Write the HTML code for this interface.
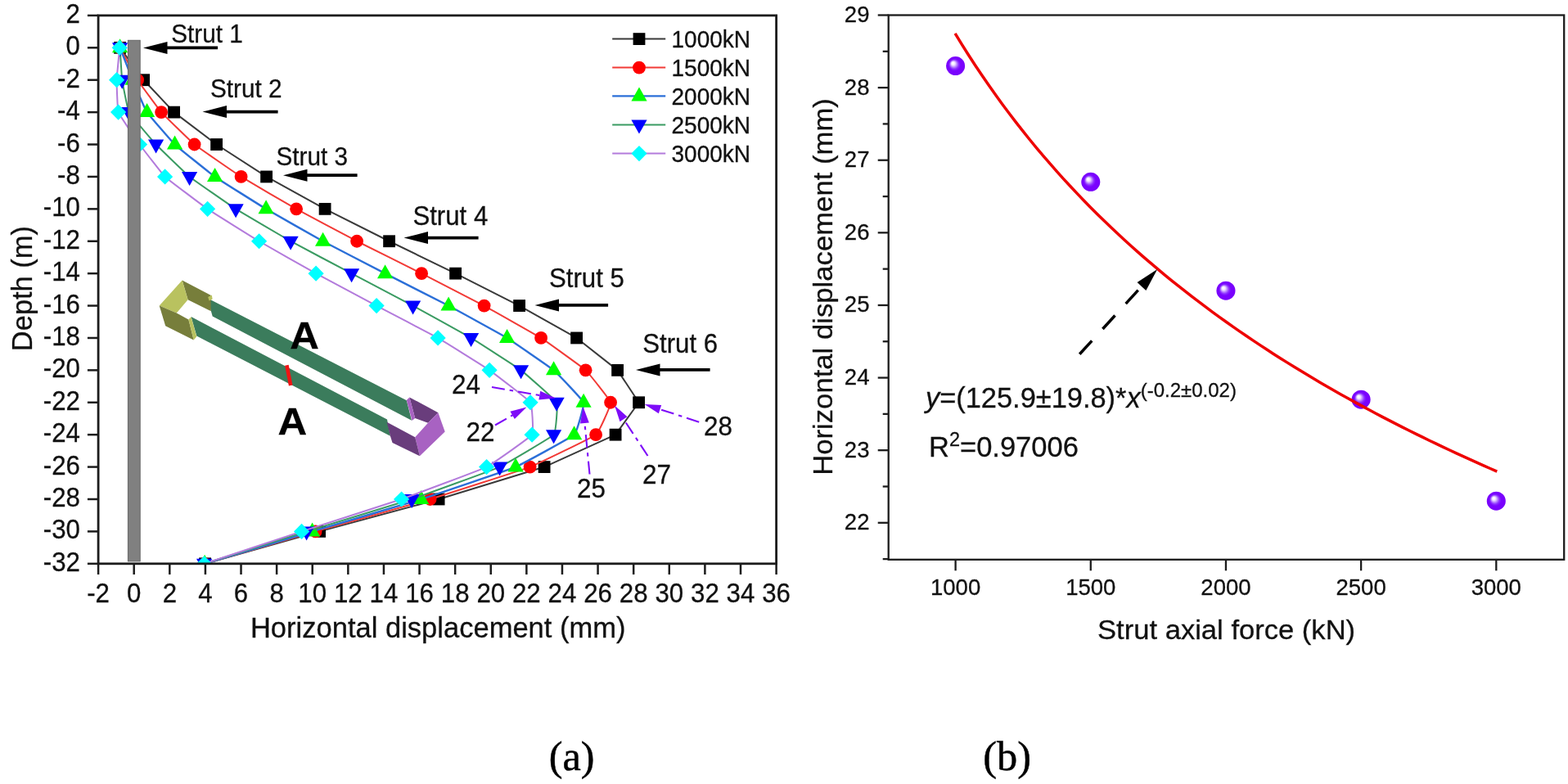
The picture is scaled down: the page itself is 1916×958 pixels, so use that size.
<!DOCTYPE html>
<html lang="en">
<head>
<meta charset="utf-8">
<title>Strut axial force and wall displacement</title>
<style>html,body{margin:0;padding:0;background:#fff}body{width:1916px;height:958px;overflow:hidden}svg{display:block;filter:blur(0.45px)}</style>
</head>
<body>
<svg width="1916" height="958" viewBox="0 0 1916 958">
<defs>
<clipPath id="clipL"><rect x="120.1" y="18.9" width="828.5" height="669.9"/></clipPath>
<radialGradient id="ball" cx="0.5" cy="0.5" r="0.5" fx="0.35" fy="0.34"><stop offset="0" stop-color="#ffffff"/><stop offset="0.12" stop-color="#fbf7ff"/><stop offset="0.22" stop-color="#e6d2ff"/><stop offset="0.36" stop-color="#b47cff"/><stop offset="0.5" stop-color="#8a2cff"/><stop offset="0.64" stop-color="#7a04ff"/><stop offset="1" stop-color="#7800fa"/></radialGradient>
<filter id="soft" x="-5%" y="-5%" width="110%" height="110%"><feGaussianBlur stdDeviation="0.6"/></filter>
</defs>
<rect width="1916" height="958" fill="#ffffff"/>
<g id="chart-a">
<g clip-path="url(#clipL)">
<path d="M146.6,58.31 C146.6,58.31 175.6,97.71 175.6,97.71 C175.6,97.71 212.6,137.12 212.6,137.12 C212.6,137.12 264.6,176.52 264.6,176.52 C264.6,176.52 325.6,215.93 325.6,215.93 C325.6,215.93 397.1,255.34 397.1,255.34 C397.1,255.34 475.6,294.74 475.6,294.74 C475.6,294.74 556.6,334.15 556.6,334.15 C556.6,334.15 634.6,373.55 634.6,373.55 C634.6,373.55 704.6,412.96 704.6,412.96 C704.6,412.96 754.6,452.36 754.6,452.36 C754.6,452.36 780.6,491.77 780.6,491.77 C780.6,491.77 752.1,531.18 752.1,531.18 C752.1,531.18 665.1,570.58 665.1,570.58 C665.1,570.58 536.1,609.99 536.1,609.99 C536.1,609.99 390.6,649.39 390.6,649.39 C390.6,649.39 250.6,688.8 250.6,688.8" fill="none" stroke="#3a3a3a" stroke-width="2" stroke-linejoin="round"/>
<rect x="139.2" y="50.91" width="14.8" height="14.8" fill="#000000"/>
<rect x="168.2" y="90.31" width="14.8" height="14.8" fill="#000000"/>
<rect x="205.2" y="129.72" width="14.8" height="14.8" fill="#000000"/>
<rect x="257.2" y="169.12" width="14.8" height="14.8" fill="#000000"/>
<rect x="318.2" y="208.53" width="14.8" height="14.8" fill="#000000"/>
<rect x="389.7" y="247.94" width="14.8" height="14.8" fill="#000000"/>
<rect x="468.2" y="287.34" width="14.8" height="14.8" fill="#000000"/>
<rect x="549.2" y="326.75" width="14.8" height="14.8" fill="#000000"/>
<rect x="627.2" y="366.15" width="14.8" height="14.8" fill="#000000"/>
<rect x="697.2" y="405.56" width="14.8" height="14.8" fill="#000000"/>
<rect x="747.2" y="444.96" width="14.8" height="14.8" fill="#000000"/>
<rect x="773.2" y="484.37" width="14.8" height="14.8" fill="#000000"/>
<rect x="744.7" y="523.78" width="14.8" height="14.8" fill="#000000"/>
<rect x="657.7" y="563.18" width="14.8" height="14.8" fill="#000000"/>
<rect x="528.7" y="602.59" width="14.8" height="14.8" fill="#000000"/>
<rect x="383.2" y="641.99" width="14.8" height="14.8" fill="#000000"/>
<rect x="243.2" y="681.4" width="14.8" height="14.8" fill="#000000"/>
<path d="M146.6,58.31 C147.46,59.88 166.08,94.56 168.1,97.71 C170.12,100.86 194.32,133.97 197.1,137.12 C199.88,140.27 233.7,173.37 237.6,176.52 C241.5,179.68 289.62,212.78 294.6,215.93 C299.58,219.08 356.44,252.18 362.1,255.34 C367.76,258.49 429.98,291.59 436.1,294.74 C442.22,297.89 508.88,330.99 515.1,334.15 C521.32,337.3 585.76,370.4 591.6,373.55 C597.44,376.71 656.14,409.81 661.1,412.96 C666.06,416.11 712.2,449.21 715.6,452.36 C719,455.52 745.6,488.62 746.1,491.77 C746.6,494.92 732.04,528.02 728.1,531.18 C724.16,534.33 655.7,567.43 647.6,570.58 C639.5,573.73 536.08,606.84 525.6,609.99 C515.12,613.14 396.62,646.24 385.6,649.39 C374.58,652.55 255.52,687.22 250.1,688.8" fill="none" stroke="#f23a36" stroke-width="2" stroke-linejoin="round"/>
<circle cx="146.6" cy="58.31" r="7.9" fill="#ff0000"/>
<circle cx="168.1" cy="97.71" r="7.9" fill="#ff0000"/>
<circle cx="197.1" cy="137.12" r="7.9" fill="#ff0000"/>
<circle cx="237.6" cy="176.52" r="7.9" fill="#ff0000"/>
<circle cx="294.6" cy="215.93" r="7.9" fill="#ff0000"/>
<circle cx="362.1" cy="255.34" r="7.9" fill="#ff0000"/>
<circle cx="436.1" cy="294.74" r="7.9" fill="#ff0000"/>
<circle cx="515.1" cy="334.15" r="7.9" fill="#ff0000"/>
<circle cx="591.6" cy="373.55" r="7.9" fill="#ff0000"/>
<circle cx="661.1" cy="412.96" r="7.9" fill="#ff0000"/>
<circle cx="715.6" cy="452.36" r="7.9" fill="#ff0000"/>
<circle cx="746.1" cy="491.77" r="7.9" fill="#ff0000"/>
<circle cx="728.1" cy="531.18" r="7.9" fill="#ff0000"/>
<circle cx="647.6" cy="570.58" r="7.9" fill="#ff0000"/>
<circle cx="525.6" cy="609.99" r="7.9" fill="#ff0000"/>
<circle cx="385.6" cy="649.39" r="7.9" fill="#ff0000"/>
<circle cx="250.1" cy="688.8" r="7.9" fill="#ff0000"/>
<path d="M146.6,58.31 C147.22,59.88 160.78,94.56 162.1,97.71 C163.42,100.86 177.54,133.97 179.6,137.12 C181.66,140.27 210.28,173.37 213.6,176.52 C216.92,179.68 258.14,212.78 262.6,215.93 C267.06,219.08 319.82,252.18 325.1,255.34 C330.38,258.49 388.78,291.59 394.6,294.74 C400.42,297.89 464.46,330.99 470.6,334.15 C476.74,337.3 542.14,370.4 548.1,373.55 C554.06,376.71 614.46,409.81 619.6,412.96 C624.74,416.11 672.86,449.21 676.6,452.36 C680.34,455.52 712.1,488.62 713.1,491.77 C714.1,494.92 704.92,528.02 701.6,531.18 C698.28,534.33 637.58,567.43 630.1,570.58 C622.62,573.73 524.54,606.84 514.6,609.99 C504.66,613.14 392.18,646.24 381.6,649.39 C371.02,652.55 255.36,687.22 250.1,688.8" fill="none" stroke="#2b6fd8" stroke-width="2.4" stroke-linejoin="round"/>
<polygon points="146.6,47.31 156.2,64.31 137,64.31" fill="#00ff00"/>
<polygon points="162.1,86.71 171.7,103.71 152.5,103.71" fill="#00ff00"/>
<polygon points="179.6,126.12 189.2,143.12 170,143.12" fill="#00ff00"/>
<polygon points="213.6,165.52 223.2,182.52 204,182.52" fill="#00ff00"/>
<polygon points="262.6,204.93 272.2,221.93 253,221.93" fill="#00ff00"/>
<polygon points="325.1,244.34 334.7,261.34 315.5,261.34" fill="#00ff00"/>
<polygon points="394.6,283.74 404.2,300.74 385,300.74" fill="#00ff00"/>
<polygon points="470.6,323.15 480.2,340.15 461,340.15" fill="#00ff00"/>
<polygon points="548.1,362.55 557.7,379.55 538.5,379.55" fill="#00ff00"/>
<polygon points="619.6,401.96 629.2,418.96 610,418.96" fill="#00ff00"/>
<polygon points="676.6,441.36 686.2,458.36 667,458.36" fill="#00ff00"/>
<polygon points="713.1,480.77 722.7,497.77 703.5,497.77" fill="#00ff00"/>
<polygon points="701.6,520.18 711.2,537.18 692,537.18" fill="#00ff00"/>
<polygon points="630.1,559.58 639.7,576.58 620.5,576.58" fill="#00ff00"/>
<polygon points="514.6,598.99 524.2,615.99 505,615.99" fill="#00ff00"/>
<polygon points="381.6,638.39 391.2,655.39 372,655.39" fill="#00ff00"/>
<polygon points="250.1,677.8 259.7,694.8 240.5,694.8" fill="#00ff00"/>
<path d="M146.6,58.31 C146.7,59.88 148.76,94.56 149.2,97.71 C149.64,100.86 155.94,133.97 157.6,137.12 C159.26,140.27 187.64,173.37 190.6,176.52 C193.56,179.68 227.7,212.78 231.6,215.93 C235.5,219.08 283.16,252.18 288.1,255.34 C293.04,258.49 349.44,291.59 355.1,294.74 C360.76,297.89 423.62,330.99 429.6,334.15 C435.58,337.3 498.76,370.4 504.6,373.55 C510.44,376.71 570.32,409.81 575.6,412.96 C580.88,416.11 632.42,449.21 636.6,452.36 C640.78,455.52 678.5,488.62 680.1,491.77 C681.7,494.92 679.38,528.02 676.6,531.18 C673.82,534.33 617.54,567.43 610.6,570.58 C603.66,573.73 512.54,606.84 503.1,609.99 C493.66,613.14 384.74,646.24 374.6,649.39 C364.46,652.55 254.6,687.22 249.6,688.8" fill="none" stroke="#3a9b62" stroke-width="2" stroke-linejoin="round"/>
<polygon points="137,52.31 156.2,52.31 146.6,69.31" fill="#0000ff"/>
<polygon points="139.6,91.71 158.8,91.71 149.2,108.71" fill="#0000ff"/>
<polygon points="148,131.12 167.2,131.12 157.6,148.12" fill="#0000ff"/>
<polygon points="181,170.52 200.2,170.52 190.6,187.52" fill="#0000ff"/>
<polygon points="222,209.93 241.2,209.93 231.6,226.93" fill="#0000ff"/>
<polygon points="278.5,249.34 297.7,249.34 288.1,266.34" fill="#0000ff"/>
<polygon points="345.5,288.74 364.7,288.74 355.1,305.74" fill="#0000ff"/>
<polygon points="420,328.15 439.2,328.15 429.6,345.15" fill="#0000ff"/>
<polygon points="495,367.55 514.2,367.55 504.6,384.55" fill="#0000ff"/>
<polygon points="566,406.96 585.2,406.96 575.6,423.96" fill="#0000ff"/>
<polygon points="627,446.36 646.2,446.36 636.6,463.36" fill="#0000ff"/>
<polygon points="670.5,485.77 689.7,485.77 680.1,502.77" fill="#0000ff"/>
<polygon points="667,525.18 686.2,525.18 676.6,542.18" fill="#0000ff"/>
<polygon points="601,564.58 620.2,564.58 610.6,581.58" fill="#0000ff"/>
<polygon points="493.5,603.99 512.7,603.99 503.1,620.99" fill="#0000ff"/>
<polygon points="365,643.39 384.2,643.39 374.6,660.39" fill="#0000ff"/>
<polygon points="240,682.8 259.2,682.8 249.6,699.8" fill="#0000ff"/>
<path d="M146.2,58.31 C146.06,59.88 142.66,94.56 142.6,97.71 C142.54,100.86 143.48,133.97 144.6,137.12 C145.72,140.27 168.32,173.37 170.6,176.52 C172.88,179.68 198.28,212.78 201.6,215.93 C204.92,219.08 249,252.18 253.6,255.34 C258.2,258.49 311.3,291.59 316.6,294.74 C321.9,297.89 380.36,330.99 386.1,334.15 C391.84,337.3 454.14,370.4 460.1,373.55 C466.06,376.71 529.58,409.81 535.1,412.96 C540.62,416.11 593.58,449.21 598.1,452.36 C602.62,455.52 646.02,488.62 648.1,491.77 C650.18,494.92 652.24,528.02 650.1,531.18 C647.96,534.33 600.98,567.43 594.6,570.58 C588.22,573.73 499.64,606.84 490.6,609.99 C481.56,613.14 378.24,646.24 368.6,649.39 C358.96,652.55 254.36,687.22 249.6,688.8" fill="none" stroke="#b37bdc" stroke-width="2" stroke-linejoin="round"/>
<polygon points="146.2,48.71 155.8,58.31 146.2,67.91 136.6,58.31" fill="#00ffff"/>
<polygon points="142.6,88.11 152.2,97.71 142.6,107.31 133,97.71" fill="#00ffff"/>
<polygon points="144.6,127.52 154.2,137.12 144.6,146.72 135,137.12" fill="#00ffff"/>
<polygon points="170.6,166.92 180.2,176.52 170.6,186.12 161,176.52" fill="#00ffff"/>
<polygon points="201.6,206.33 211.2,215.93 201.6,225.53 192,215.93" fill="#00ffff"/>
<polygon points="253.6,245.74 263.2,255.34 253.6,264.94 244,255.34" fill="#00ffff"/>
<polygon points="316.6,285.14 326.2,294.74 316.6,304.34 307,294.74" fill="#00ffff"/>
<polygon points="386.1,324.55 395.7,334.15 386.1,343.75 376.5,334.15" fill="#00ffff"/>
<polygon points="460.1,363.95 469.7,373.55 460.1,383.15 450.5,373.55" fill="#00ffff"/>
<polygon points="535.1,403.36 544.7,412.96 535.1,422.56 525.5,412.96" fill="#00ffff"/>
<polygon points="598.1,442.76 607.7,452.36 598.1,461.96 588.5,452.36" fill="#00ffff"/>
<polygon points="648.1,482.17 657.7,491.77 648.1,501.37 638.5,491.77" fill="#00ffff"/>
<polygon points="650.1,521.58 659.7,531.18 650.1,540.78 640.5,531.18" fill="#00ffff"/>
<polygon points="594.6,560.98 604.2,570.58 594.6,580.18 585,570.58" fill="#00ffff"/>
<polygon points="490.6,600.39 500.2,609.99 490.6,619.59 481,609.99" fill="#00ffff"/>
<polygon points="368.6,639.79 378.2,649.39 368.6,658.99 359,649.39" fill="#00ffff"/>
<polygon points="249.6,679.2 259.2,688.8 249.6,698.4 240,688.8" fill="#00ffff"/>
</g>
<g filter="url(#soft)">
<polygon points="253.4,364.2 496.8,489.3 503,513.7 259.7,386.6" fill="#3b7b5b"/>
<polygon points="233.5,387 473,512.6 476.9,532.7 240.3,410.6" fill="#3b7b5b"/>
<polygon points="222.6,342.6 257.5,360.8 257.8,380.2 229.6,366.3" fill="#777e3b"/>
<polygon points="222.6,342.6 229.6,366.3 215.8,382.6 194.7,373.6" fill="#b9c25f"/>
<polygon points="194.7,373.6 215.8,382.6 230.4,390.4 236.7,415.4 202.2,398.2" fill="#777e3b"/>
<polygon points="230.4,390.4 233.5,387.2 240.3,411.2 236.7,415.4" fill="#b9c25f"/>
<polygon points="254.2,363 258.8,360.6 259.6,365.6 255.6,367.6" fill="#b9c25f"/>
<polygon points="500.4,485.4 535.4,504.2 523,516.8 507.2,511" fill="#693c7c"/>
<polygon points="496.8,489.1 500.4,485.4 507.2,511 503.5,513.9" fill="#a862c2"/>
<polygon points="535.4,504.2 543.7,527.5 512.9,557.3 507.2,534.3 523,516.8" fill="#a862c2"/>
<polygon points="472.7,515.7 507.2,534.3 512.9,557.3 479.5,541.1 476.9,532.7" fill="#693c7c"/>
</g>
<line x1="350.4" y1="446.2" x2="355.2" y2="471" stroke="#f01414" stroke-width="4.6"/>
<text transform="translate(372.1,426.2) scale(1.05,1)" font-family='"Liberation Sans", Arial, sans-serif' font-size="47" text-anchor="middle" fill="#000" font-weight="bold" stroke="#000" stroke-width="0.3">A</text>
<text transform="translate(357.3,530.6) scale(1.05,1)" font-family='"Liberation Sans", Arial, sans-serif' font-size="47" text-anchor="middle" fill="#000" font-weight="bold" stroke="#000" stroke-width="0.3">A</text>
<rect x="156.4" y="49.3" width="14.8" height="636.6" fill="#808080" stroke="#646464" stroke-width="1"/>
<rect x="120.1" y="18.9" width="828.5" height="669.9" fill="none" stroke="#1c1c1c" stroke-width="2.8"/>
<line x1="106.9" y1="18.9" x2="120.1" y2="18.9" stroke="#1c1c1c" stroke-width="2.5"/>
<text transform="translate(97.9,27.9) scale(0.93,1)" font-family='"Liberation Sans", Arial, sans-serif' font-size="33.6" text-anchor="end" fill="#111" stroke="#111" stroke-width="0.3">2</text>
<line x1="106.9" y1="58.31" x2="120.1" y2="58.31" stroke="#1c1c1c" stroke-width="2.5"/>
<text transform="translate(97.9,67.31) scale(0.93,1)" font-family='"Liberation Sans", Arial, sans-serif' font-size="33.6" text-anchor="end" fill="#111" stroke="#111" stroke-width="0.3">0</text>
<line x1="106.9" y1="97.71" x2="120.1" y2="97.71" stroke="#1c1c1c" stroke-width="2.5"/>
<text transform="translate(97.9,106.71) scale(0.93,1)" font-family='"Liberation Sans", Arial, sans-serif' font-size="33.6" text-anchor="end" fill="#111" stroke="#111" stroke-width="0.3">-2</text>
<line x1="106.9" y1="137.12" x2="120.1" y2="137.12" stroke="#1c1c1c" stroke-width="2.5"/>
<text transform="translate(97.9,146.12) scale(0.93,1)" font-family='"Liberation Sans", Arial, sans-serif' font-size="33.6" text-anchor="end" fill="#111" stroke="#111" stroke-width="0.3">-4</text>
<line x1="106.9" y1="176.52" x2="120.1" y2="176.52" stroke="#1c1c1c" stroke-width="2.5"/>
<text transform="translate(97.9,185.52) scale(0.93,1)" font-family='"Liberation Sans", Arial, sans-serif' font-size="33.6" text-anchor="end" fill="#111" stroke="#111" stroke-width="0.3">-6</text>
<line x1="106.9" y1="215.93" x2="120.1" y2="215.93" stroke="#1c1c1c" stroke-width="2.5"/>
<text transform="translate(97.9,224.93) scale(0.93,1)" font-family='"Liberation Sans", Arial, sans-serif' font-size="33.6" text-anchor="end" fill="#111" stroke="#111" stroke-width="0.3">-8</text>
<line x1="106.9" y1="255.34" x2="120.1" y2="255.34" stroke="#1c1c1c" stroke-width="2.5"/>
<text transform="translate(97.9,264.34) scale(0.93,1)" font-family='"Liberation Sans", Arial, sans-serif' font-size="33.6" text-anchor="end" fill="#111" stroke="#111" stroke-width="0.3">-10</text>
<line x1="106.9" y1="294.74" x2="120.1" y2="294.74" stroke="#1c1c1c" stroke-width="2.5"/>
<text transform="translate(97.9,303.74) scale(0.93,1)" font-family='"Liberation Sans", Arial, sans-serif' font-size="33.6" text-anchor="end" fill="#111" stroke="#111" stroke-width="0.3">-12</text>
<line x1="106.9" y1="334.15" x2="120.1" y2="334.15" stroke="#1c1c1c" stroke-width="2.5"/>
<text transform="translate(97.9,343.15) scale(0.93,1)" font-family='"Liberation Sans", Arial, sans-serif' font-size="33.6" text-anchor="end" fill="#111" stroke="#111" stroke-width="0.3">-14</text>
<line x1="106.9" y1="373.55" x2="120.1" y2="373.55" stroke="#1c1c1c" stroke-width="2.5"/>
<text transform="translate(97.9,382.55) scale(0.93,1)" font-family='"Liberation Sans", Arial, sans-serif' font-size="33.6" text-anchor="end" fill="#111" stroke="#111" stroke-width="0.3">-16</text>
<line x1="106.9" y1="412.96" x2="120.1" y2="412.96" stroke="#1c1c1c" stroke-width="2.5"/>
<text transform="translate(97.9,421.96) scale(0.93,1)" font-family='"Liberation Sans", Arial, sans-serif' font-size="33.6" text-anchor="end" fill="#111" stroke="#111" stroke-width="0.3">-18</text>
<line x1="106.9" y1="452.36" x2="120.1" y2="452.36" stroke="#1c1c1c" stroke-width="2.5"/>
<text transform="translate(97.9,461.36) scale(0.93,1)" font-family='"Liberation Sans", Arial, sans-serif' font-size="33.6" text-anchor="end" fill="#111" stroke="#111" stroke-width="0.3">-20</text>
<line x1="106.9" y1="491.77" x2="120.1" y2="491.77" stroke="#1c1c1c" stroke-width="2.5"/>
<text transform="translate(97.9,500.77) scale(0.93,1)" font-family='"Liberation Sans", Arial, sans-serif' font-size="33.6" text-anchor="end" fill="#111" stroke="#111" stroke-width="0.3">-22</text>
<line x1="106.9" y1="531.18" x2="120.1" y2="531.18" stroke="#1c1c1c" stroke-width="2.5"/>
<text transform="translate(97.9,540.18) scale(0.93,1)" font-family='"Liberation Sans", Arial, sans-serif' font-size="33.6" text-anchor="end" fill="#111" stroke="#111" stroke-width="0.3">-24</text>
<line x1="106.9" y1="570.58" x2="120.1" y2="570.58" stroke="#1c1c1c" stroke-width="2.5"/>
<text transform="translate(97.9,579.58) scale(0.93,1)" font-family='"Liberation Sans", Arial, sans-serif' font-size="33.6" text-anchor="end" fill="#111" stroke="#111" stroke-width="0.3">-26</text>
<line x1="106.9" y1="609.99" x2="120.1" y2="609.99" stroke="#1c1c1c" stroke-width="2.5"/>
<text transform="translate(97.9,618.99) scale(0.93,1)" font-family='"Liberation Sans", Arial, sans-serif' font-size="33.6" text-anchor="end" fill="#111" stroke="#111" stroke-width="0.3">-28</text>
<line x1="106.9" y1="649.39" x2="120.1" y2="649.39" stroke="#1c1c1c" stroke-width="2.5"/>
<text transform="translate(97.9,658.39) scale(0.93,1)" font-family='"Liberation Sans", Arial, sans-serif' font-size="33.6" text-anchor="end" fill="#111" stroke="#111" stroke-width="0.3">-30</text>
<line x1="106.9" y1="688.8" x2="120.1" y2="688.8" stroke="#1c1c1c" stroke-width="2.5"/>
<text transform="translate(97.9,697.8) scale(0.93,1)" font-family='"Liberation Sans", Arial, sans-serif' font-size="33.6" text-anchor="end" fill="#111" stroke="#111" stroke-width="0.3">-32</text>
<line x1="120.1" y1="688.8" x2="120.1" y2="702" stroke="#1c1c1c" stroke-width="2.5"/>
<text transform="translate(120.1,735.9) scale(0.93,1)" font-family='"Liberation Sans", Arial, sans-serif' font-size="33.6" text-anchor="middle" fill="#111" stroke="#111" stroke-width="0.3">-2</text>
<line x1="163.71" y1="688.8" x2="163.71" y2="702" stroke="#1c1c1c" stroke-width="2.5"/>
<text transform="translate(163.71,735.9) scale(0.93,1)" font-family='"Liberation Sans", Arial, sans-serif' font-size="33.6" text-anchor="middle" fill="#111" stroke="#111" stroke-width="0.3">0</text>
<line x1="207.31" y1="688.8" x2="207.31" y2="702" stroke="#1c1c1c" stroke-width="2.5"/>
<text transform="translate(207.31,735.9) scale(0.93,1)" font-family='"Liberation Sans", Arial, sans-serif' font-size="33.6" text-anchor="middle" fill="#111" stroke="#111" stroke-width="0.3">2</text>
<line x1="250.92" y1="688.8" x2="250.92" y2="702" stroke="#1c1c1c" stroke-width="2.5"/>
<text transform="translate(250.92,735.9) scale(0.93,1)" font-family='"Liberation Sans", Arial, sans-serif' font-size="33.6" text-anchor="middle" fill="#111" stroke="#111" stroke-width="0.3">4</text>
<line x1="294.52" y1="688.8" x2="294.52" y2="702" stroke="#1c1c1c" stroke-width="2.5"/>
<text transform="translate(294.52,735.9) scale(0.93,1)" font-family='"Liberation Sans", Arial, sans-serif' font-size="33.6" text-anchor="middle" fill="#111" stroke="#111" stroke-width="0.3">6</text>
<line x1="338.13" y1="688.8" x2="338.13" y2="702" stroke="#1c1c1c" stroke-width="2.5"/>
<text transform="translate(338.13,735.9) scale(0.93,1)" font-family='"Liberation Sans", Arial, sans-serif' font-size="33.6" text-anchor="middle" fill="#111" stroke="#111" stroke-width="0.3">8</text>
<line x1="381.73" y1="688.8" x2="381.73" y2="702" stroke="#1c1c1c" stroke-width="2.5"/>
<text transform="translate(381.73,735.9) scale(0.93,1)" font-family='"Liberation Sans", Arial, sans-serif' font-size="33.6" text-anchor="middle" fill="#111" stroke="#111" stroke-width="0.3">10</text>
<line x1="425.34" y1="688.8" x2="425.34" y2="702" stroke="#1c1c1c" stroke-width="2.5"/>
<text transform="translate(425.34,735.9) scale(0.93,1)" font-family='"Liberation Sans", Arial, sans-serif' font-size="33.6" text-anchor="middle" fill="#111" stroke="#111" stroke-width="0.3">12</text>
<line x1="468.94" y1="688.8" x2="468.94" y2="702" stroke="#1c1c1c" stroke-width="2.5"/>
<text transform="translate(468.94,735.9) scale(0.93,1)" font-family='"Liberation Sans", Arial, sans-serif' font-size="33.6" text-anchor="middle" fill="#111" stroke="#111" stroke-width="0.3">14</text>
<line x1="512.55" y1="688.8" x2="512.55" y2="702" stroke="#1c1c1c" stroke-width="2.5"/>
<text transform="translate(512.55,735.9) scale(0.93,1)" font-family='"Liberation Sans", Arial, sans-serif' font-size="33.6" text-anchor="middle" fill="#111" stroke="#111" stroke-width="0.3">16</text>
<line x1="556.15" y1="688.8" x2="556.15" y2="702" stroke="#1c1c1c" stroke-width="2.5"/>
<text transform="translate(556.15,735.9) scale(0.93,1)" font-family='"Liberation Sans", Arial, sans-serif' font-size="33.6" text-anchor="middle" fill="#111" stroke="#111" stroke-width="0.3">18</text>
<line x1="599.76" y1="688.8" x2="599.76" y2="702" stroke="#1c1c1c" stroke-width="2.5"/>
<text transform="translate(599.76,735.9) scale(0.93,1)" font-family='"Liberation Sans", Arial, sans-serif' font-size="33.6" text-anchor="middle" fill="#111" stroke="#111" stroke-width="0.3">20</text>
<line x1="643.36" y1="688.8" x2="643.36" y2="702" stroke="#1c1c1c" stroke-width="2.5"/>
<text transform="translate(643.36,735.9) scale(0.93,1)" font-family='"Liberation Sans", Arial, sans-serif' font-size="33.6" text-anchor="middle" fill="#111" stroke="#111" stroke-width="0.3">22</text>
<line x1="686.97" y1="688.8" x2="686.97" y2="702" stroke="#1c1c1c" stroke-width="2.5"/>
<text transform="translate(686.97,735.9) scale(0.93,1)" font-family='"Liberation Sans", Arial, sans-serif' font-size="33.6" text-anchor="middle" fill="#111" stroke="#111" stroke-width="0.3">24</text>
<line x1="730.57" y1="688.8" x2="730.57" y2="702" stroke="#1c1c1c" stroke-width="2.5"/>
<text transform="translate(730.57,735.9) scale(0.93,1)" font-family='"Liberation Sans", Arial, sans-serif' font-size="33.6" text-anchor="middle" fill="#111" stroke="#111" stroke-width="0.3">26</text>
<line x1="774.18" y1="688.8" x2="774.18" y2="702" stroke="#1c1c1c" stroke-width="2.5"/>
<text transform="translate(774.18,735.9) scale(0.93,1)" font-family='"Liberation Sans", Arial, sans-serif' font-size="33.6" text-anchor="middle" fill="#111" stroke="#111" stroke-width="0.3">28</text>
<line x1="817.78" y1="688.8" x2="817.78" y2="702" stroke="#1c1c1c" stroke-width="2.5"/>
<text transform="translate(817.78,735.9) scale(0.93,1)" font-family='"Liberation Sans", Arial, sans-serif' font-size="33.6" text-anchor="middle" fill="#111" stroke="#111" stroke-width="0.3">30</text>
<line x1="861.39" y1="688.8" x2="861.39" y2="702" stroke="#1c1c1c" stroke-width="2.5"/>
<text transform="translate(861.39,735.9) scale(0.93,1)" font-family='"Liberation Sans", Arial, sans-serif' font-size="33.6" text-anchor="middle" fill="#111" stroke="#111" stroke-width="0.3">32</text>
<line x1="904.99" y1="688.8" x2="904.99" y2="702" stroke="#1c1c1c" stroke-width="2.5"/>
<text transform="translate(904.99,735.9) scale(0.93,1)" font-family='"Liberation Sans", Arial, sans-serif' font-size="33.6" text-anchor="middle" fill="#111" stroke="#111" stroke-width="0.3">34</text>
<line x1="948.6" y1="688.8" x2="948.6" y2="702" stroke="#1c1c1c" stroke-width="2.5"/>
<text transform="translate(948.6,735.9) scale(0.93,1)" font-family='"Liberation Sans", Arial, sans-serif' font-size="33.6" text-anchor="middle" fill="#111" stroke="#111" stroke-width="0.3">36</text>
<text transform="translate(535.2,778.5) scale(1.01,1)" font-family='"Liberation Sans", Arial, sans-serif' font-size="34.2" text-anchor="middle" fill="#111" stroke="#111" stroke-width="0.3">Horizontal displacement (mm)</text>
<text transform="translate(38.7,352.6) rotate(-90) scale(0.99,1)" font-family='"Liberation Sans", Arial, sans-serif' font-size="34.8" text-anchor="middle" fill="#111" stroke="#111" stroke-width="0.3">Depth (m)</text>
<line x1="748.2" y1="47.6" x2="813.2" y2="47.6" stroke="#3a3a3a" stroke-width="2"/>
<rect x="773.6" y="40.2" width="14.8" height="14.8" fill="#000000"/>
<text transform="translate(820.5,57.8) scale(0.95,1)" font-family='"Liberation Sans", Arial, sans-serif' font-size="29.5" text-anchor="start" fill="#111" stroke="#111" stroke-width="0.3">1000kN</text>
<line x1="748.2" y1="82.6" x2="813.2" y2="82.6" stroke="#f23a36" stroke-width="2"/>
<circle cx="781" cy="82.6" r="7.9" fill="#ff0000"/>
<text transform="translate(820.5,92.8) scale(0.95,1)" font-family='"Liberation Sans", Arial, sans-serif' font-size="29.5" text-anchor="start" fill="#111" stroke="#111" stroke-width="0.3">1500kN</text>
<line x1="748.2" y1="117.4" x2="813.2" y2="117.4" stroke="#2b6fd8" stroke-width="2.4"/>
<polygon points="781,106.4 790.6,123.4 771.4,123.4" fill="#00ff00"/>
<text transform="translate(820.5,127.6) scale(0.95,1)" font-family='"Liberation Sans", Arial, sans-serif' font-size="29.5" text-anchor="start" fill="#111" stroke="#111" stroke-width="0.3">2000kN</text>
<line x1="748.2" y1="152.4" x2="813.2" y2="152.4" stroke="#3a9b62" stroke-width="2"/>
<polygon points="771.4,146.4 790.6,146.4 781,163.4" fill="#0000ff"/>
<text transform="translate(820.5,162.6) scale(0.95,1)" font-family='"Liberation Sans", Arial, sans-serif' font-size="29.5" text-anchor="start" fill="#111" stroke="#111" stroke-width="0.3">2500kN</text>
<line x1="748.2" y1="187.6" x2="813.2" y2="187.6" stroke="#b37bdc" stroke-width="2"/>
<polygon points="781,178 790.6,187.6 781,197.2 771.4,187.6" fill="#00ffff"/>
<text transform="translate(820.5,197.8) scale(0.95,1)" font-family='"Liberation Sans", Arial, sans-serif' font-size="29.5" text-anchor="start" fill="#111" stroke="#111" stroke-width="0.3">3000kN</text>
<text transform="translate(209.2,52) scale(0.96,1)" font-family='"Liberation Sans", Arial, sans-serif' font-size="31" text-anchor="start" fill="#111" stroke="#111" stroke-width="0.3">Strut 1</text>
<line x1="266.1" y1="58.4" x2="195" y2="58.4" stroke="#000" stroke-width="3.8"/>
<polygon points="175,58.4 204.5,50.9 204.5,65.9" fill="#000"/>
<text transform="translate(257,119.4) scale(0.96,1)" font-family='"Liberation Sans", Arial, sans-serif' font-size="31" text-anchor="start" fill="#111" stroke="#111" stroke-width="0.3">Strut 2</text>
<line x1="339.6" y1="136.6" x2="267.5" y2="136.6" stroke="#000" stroke-width="3.8"/>
<polygon points="247.5,136.6 277,129.1 277,144.1" fill="#000"/>
<text transform="translate(337.4,202) scale(0.96,1)" font-family='"Liberation Sans", Arial, sans-serif' font-size="31" text-anchor="start" fill="#111" stroke="#111" stroke-width="0.3">Strut 3</text>
<line x1="436.6" y1="214.2" x2="366" y2="214.2" stroke="#000" stroke-width="3.8"/>
<polygon points="346,214.2 375.5,206.7 375.5,221.7" fill="#000"/>
<text transform="translate(504.4,274.6) scale(0.96,1)" font-family='"Liberation Sans", Arial, sans-serif' font-size="32.5" text-anchor="start" fill="#111" stroke="#111" stroke-width="0.3">Strut 4</text>
<line x1="584.6" y1="290.6" x2="513.5" y2="290.6" stroke="#000" stroke-width="3.8"/>
<polygon points="493.5,290.6 523,283.1 523,298.1" fill="#000"/>
<text transform="translate(671,351) scale(0.96,1)" font-family='"Liberation Sans", Arial, sans-serif' font-size="32.5" text-anchor="start" fill="#111" stroke="#111" stroke-width="0.3">Strut 5</text>
<line x1="743.1" y1="372.9" x2="673.5" y2="372.9" stroke="#000" stroke-width="3.8"/>
<polygon points="653.5,372.9 683,365.4 683,380.4" fill="#000"/>
<text transform="translate(785.2,431.2) scale(0.96,1)" font-family='"Liberation Sans", Arial, sans-serif' font-size="32.5" text-anchor="start" fill="#111" stroke="#111" stroke-width="0.3">Strut 6</text>
<line x1="867.6" y1="451.9" x2="797" y2="451.9" stroke="#000" stroke-width="3.8"/>
<polygon points="777,451.9 806.5,444.4 806.5,459.4" fill="#000"/>
<line x1="601" y1="473" x2="661.26" y2="483.43" stroke="#7e0cf8" stroke-width="2.1" stroke-dasharray="16 6 4.5 6"/>
<polygon points="679,486.5 658.37,488.41 660.21,477.77" fill="#7e0cf8"/>
<text transform="translate(552,481.4) scale(0.94,1)" font-family='"Liberation Sans", Arial, sans-serif' font-size="33.4" text-anchor="start" fill="#111" stroke="#111" stroke-width="0.3">24</text>
<line x1="605" y1="519.5" x2="627.87" y2="506.43" stroke="#7e0cf8" stroke-width="2.1" stroke-dasharray="16 6 4.5 6"/>
<polygon points="643.5,497.5 628.81,512.11 623.46,502.73" fill="#7e0cf8"/>
<text transform="translate(569.5,538.7) scale(0.94,1)" font-family='"Liberation Sans", Arial, sans-serif' font-size="33.4" text-anchor="start" fill="#111" stroke="#111" stroke-width="0.3">22</text>
<line x1="720.5" y1="579.5" x2="714.24" y2="514.92" stroke="#7e0cf8" stroke-width="2.1" stroke-dasharray="16 6 4.5 6"/>
<polygon points="712.5,497 719.81,516.39 709.06,517.43" fill="#7e0cf8"/>
<text transform="translate(705,608.2) scale(0.94,1)" font-family='"Liberation Sans", Arial, sans-serif' font-size="33.4" text-anchor="start" fill="#111" stroke="#111" stroke-width="0.3">25</text>
<line x1="791.5" y1="557" x2="760.9" y2="510.53" stroke="#7e0cf8" stroke-width="2.1" stroke-dasharray="16 6 4.5 6"/>
<polygon points="751,495.5 766.51,509.23 757.49,515.17" fill="#7e0cf8"/>
<text transform="translate(785,591.4) scale(0.94,1)" font-family='"Liberation Sans", Arial, sans-serif' font-size="33.4" text-anchor="start" fill="#111" stroke="#111" stroke-width="0.3">27</text>
<line x1="854.2" y1="515.7" x2="804.61" y2="499.49" stroke="#7e0cf8" stroke-width="2.1" stroke-dasharray="16 6 4.5 6"/>
<polygon points="787.5,493.9 808.19,494.98 804.83,505.25" fill="#7e0cf8"/>
<text transform="translate(860,531.7) scale(0.94,1)" font-family='"Liberation Sans", Arial, sans-serif' font-size="33.4" text-anchor="start" fill="#111" stroke="#111" stroke-width="0.3">28</text>
</g>
<g id="chart-b">
<circle cx="1167.6" cy="80.53" r="11.5" fill="url(#ball)"/>
<circle cx="1332.77" cy="222.31" r="11.5" fill="url(#ball)"/>
<circle cx="1497.95" cy="355.23" r="11.5" fill="url(#ball)"/>
<circle cx="1663.12" cy="488.16" r="11.5" fill="url(#ball)"/>
<circle cx="1828.3" cy="612.22" r="11.5" fill="url(#ball)"/>
<path d="M1167.1,40.88 L1175.38,54.37 L1183.66,67.46 L1191.94,80.18 L1200.21,92.54 L1208.49,104.57 L1216.77,116.27 L1225.05,127.67 L1233.32,138.78 L1241.6,149.61 L1249.88,160.17 L1258.16,170.48 L1266.43,180.54 L1274.71,190.37 L1282.99,199.98 L1291.26,209.38 L1299.54,218.57 L1307.82,227.56 L1316.1,236.36 L1324.37,244.98 L1332.65,253.42 L1340.93,261.69 L1349.21,269.8 L1357.48,277.75 L1365.76,285.55 L1374.04,293.2 L1382.32,300.71 L1390.59,308.09 L1398.87,315.33 L1407.15,322.44 L1415.42,329.43 L1423.7,336.3 L1431.98,343.05 L1440.26,349.68 L1448.53,356.21 L1456.81,362.63 L1465.09,368.95 L1473.37,375.17 L1481.64,381.29 L1489.92,387.31 L1498.2,393.25 L1506.48,399.09 L1514.75,404.85 L1523.03,410.52 L1531.31,416.11 L1539.58,421.62 L1547.86,427.05 L1556.14,432.41 L1564.42,437.69 L1572.69,442.89 L1580.97,448.03 L1589.25,453.1 L1597.53,458.1 L1605.8,463.03 L1614.08,467.91 L1622.36,472.71 L1630.64,477.46 L1638.91,482.15 L1647.19,486.78 L1655.47,491.35 L1663.74,495.87 L1672.02,500.33 L1680.3,504.74 L1688.58,509.09 L1696.85,513.4 L1705.13,517.65 L1713.41,521.86 L1721.69,526.02 L1729.96,530.13 L1738.24,534.19 L1746.52,538.21 L1754.8,542.19 L1763.07,546.12 L1771.35,550.01 L1779.63,553.86 L1787.9,557.66 L1796.18,561.43 L1804.46,565.16 L1812.74,568.85 L1821.01,572.5 L1829.29,576.12" fill="none" stroke="#ee0202" stroke-width="3.5" stroke-linecap="butt"/>
<rect x="1085.7" y="18.5" width="825.5" height="665.3" fill="none" stroke="#1c1c1c" stroke-width="2.3"/>
<line x1="1072.7" y1="18.5" x2="1085.7" y2="18.5" stroke="#1c1c1c" stroke-width="2.3"/>
<text transform="translate(1062.5,26.9) scale(0.97,1)" font-family='"Liberation Sans", Arial, sans-serif' font-size="28.4" text-anchor="end" fill="#111" stroke="#111" stroke-width="0.3">29</text>
<line x1="1078.7" y1="62.81" x2="1085.7" y2="62.81" stroke="#1c1c1c" stroke-width="2.3"/>
<line x1="1072.7" y1="107.11" x2="1085.7" y2="107.11" stroke="#1c1c1c" stroke-width="2.3"/>
<text transform="translate(1062.5,115.51) scale(0.97,1)" font-family='"Liberation Sans", Arial, sans-serif' font-size="28.4" text-anchor="end" fill="#111" stroke="#111" stroke-width="0.3">28</text>
<line x1="1078.7" y1="151.42" x2="1085.7" y2="151.42" stroke="#1c1c1c" stroke-width="2.3"/>
<line x1="1072.7" y1="195.73" x2="1085.7" y2="195.73" stroke="#1c1c1c" stroke-width="2.3"/>
<text transform="translate(1062.5,204.13) scale(0.97,1)" font-family='"Liberation Sans", Arial, sans-serif' font-size="28.4" text-anchor="end" fill="#111" stroke="#111" stroke-width="0.3">27</text>
<line x1="1078.7" y1="240.04" x2="1085.7" y2="240.04" stroke="#1c1c1c" stroke-width="2.3"/>
<line x1="1072.7" y1="284.34" x2="1085.7" y2="284.34" stroke="#1c1c1c" stroke-width="2.3"/>
<text transform="translate(1062.5,292.74) scale(0.97,1)" font-family='"Liberation Sans", Arial, sans-serif' font-size="28.4" text-anchor="end" fill="#111" stroke="#111" stroke-width="0.3">26</text>
<line x1="1078.7" y1="328.65" x2="1085.7" y2="328.65" stroke="#1c1c1c" stroke-width="2.3"/>
<line x1="1072.7" y1="372.96" x2="1085.7" y2="372.96" stroke="#1c1c1c" stroke-width="2.3"/>
<text transform="translate(1062.5,381.36) scale(0.97,1)" font-family='"Liberation Sans", Arial, sans-serif' font-size="28.4" text-anchor="end" fill="#111" stroke="#111" stroke-width="0.3">25</text>
<line x1="1078.7" y1="417.26" x2="1085.7" y2="417.26" stroke="#1c1c1c" stroke-width="2.3"/>
<line x1="1072.7" y1="461.57" x2="1085.7" y2="461.57" stroke="#1c1c1c" stroke-width="2.3"/>
<text transform="translate(1062.5,469.97) scale(0.97,1)" font-family='"Liberation Sans", Arial, sans-serif' font-size="28.4" text-anchor="end" fill="#111" stroke="#111" stroke-width="0.3">24</text>
<line x1="1078.7" y1="505.88" x2="1085.7" y2="505.88" stroke="#1c1c1c" stroke-width="2.3"/>
<line x1="1072.7" y1="550.19" x2="1085.7" y2="550.19" stroke="#1c1c1c" stroke-width="2.3"/>
<text transform="translate(1062.5,558.59) scale(0.97,1)" font-family='"Liberation Sans", Arial, sans-serif' font-size="28.4" text-anchor="end" fill="#111" stroke="#111" stroke-width="0.3">23</text>
<line x1="1078.7" y1="594.49" x2="1085.7" y2="594.49" stroke="#1c1c1c" stroke-width="2.3"/>
<line x1="1072.7" y1="638.8" x2="1085.7" y2="638.8" stroke="#1c1c1c" stroke-width="2.3"/>
<text transform="translate(1062.5,647.2) scale(0.97,1)" font-family='"Liberation Sans", Arial, sans-serif' font-size="28.4" text-anchor="end" fill="#111" stroke="#111" stroke-width="0.3">22</text>
<line x1="1078.7" y1="683.11" x2="1085.7" y2="683.11" stroke="#1c1c1c" stroke-width="2.3"/>
<line x1="1167.6" y1="683.8" x2="1167.6" y2="697.3" stroke="#1c1c1c" stroke-width="2.3"/>
<text transform="translate(1167.6,727.2) scale(0.97,1)" font-family='"Liberation Sans", Arial, sans-serif' font-size="28.4" text-anchor="middle" fill="#111" stroke="#111" stroke-width="0.3">1000</text>
<line x1="1332.77" y1="683.8" x2="1332.77" y2="697.3" stroke="#1c1c1c" stroke-width="2.3"/>
<text transform="translate(1332.77,727.2) scale(0.97,1)" font-family='"Liberation Sans", Arial, sans-serif' font-size="28.4" text-anchor="middle" fill="#111" stroke="#111" stroke-width="0.3">1500</text>
<line x1="1497.95" y1="683.8" x2="1497.95" y2="697.3" stroke="#1c1c1c" stroke-width="2.3"/>
<text transform="translate(1497.95,727.2) scale(0.97,1)" font-family='"Liberation Sans", Arial, sans-serif' font-size="28.4" text-anchor="middle" fill="#111" stroke="#111" stroke-width="0.3">2000</text>
<line x1="1663.12" y1="683.8" x2="1663.12" y2="697.3" stroke="#1c1c1c" stroke-width="2.3"/>
<text transform="translate(1663.12,727.2) scale(0.97,1)" font-family='"Liberation Sans", Arial, sans-serif' font-size="28.4" text-anchor="middle" fill="#111" stroke="#111" stroke-width="0.3">2500</text>
<line x1="1828.3" y1="683.8" x2="1828.3" y2="697.3" stroke="#1c1c1c" stroke-width="2.3"/>
<text transform="translate(1828.3,727.2) scale(0.97,1)" font-family='"Liberation Sans", Arial, sans-serif' font-size="28.4" text-anchor="middle" fill="#111" stroke="#111" stroke-width="0.3">3000</text>
<text transform="translate(1498.6,780.5) scale(1.02,1)" font-family='"Liberation Sans", Arial, sans-serif' font-size="33.9" text-anchor="middle" fill="#111" stroke="#111" stroke-width="0.3">Strut axial force (kN)</text>
<text transform="translate(1017,350.5) rotate(-90) scale(1.03,1)" font-family='"Liberation Sans", Arial, sans-serif' font-size="33.7" text-anchor="middle" fill="#111" stroke="#111" stroke-width="0.3">Horizontal displacement (mm)</text>
<line x1="1319.2" y1="432.8" x2="1391.58" y2="353.71" stroke="#000" stroke-width="3.5" stroke-dasharray="22.3 19.5"/>
<polygon points="1414.2,329 1400.34,354.95 1389.57,345.1" fill="#000"/>
<text transform="translate(1131,498.3)" font-family='"Liberation Sans", Arial, sans-serif' font-size="34.4" text-anchor="start" fill="#111" stroke="#111" stroke-width="0.3"><tspan font-style="italic">y</tspan>=(125.9±19.8)*<tspan font-style="italic">x</tspan><tspan font-size="24" dy="-13.5">(-0.2±0.02)</tspan></text>
<text transform="translate(1135,558.3)" font-family='"Liberation Sans", Arial, sans-serif' font-size="34.5" text-anchor="start" fill="#111" stroke="#111" stroke-width="0.3">R<tspan font-size="23.5" dy="-13.5">2</tspan><tspan dy="13.5">=0.97006</tspan></text>
</g>
<text transform="translate(698.6,940.6)" font-family='"Liberation Serif", "Times New Roman", serif' font-size="50.3" text-anchor="middle" fill="#000" stroke="#000" stroke-width="0.5">(a)</text>
<text transform="translate(1230.6,940.6)" font-family='"Liberation Serif", "Times New Roman", serif' font-size="50.3" text-anchor="middle" fill="#000" stroke="#000" stroke-width="0.5">(b)</text>
</svg>
</body>
</html>
